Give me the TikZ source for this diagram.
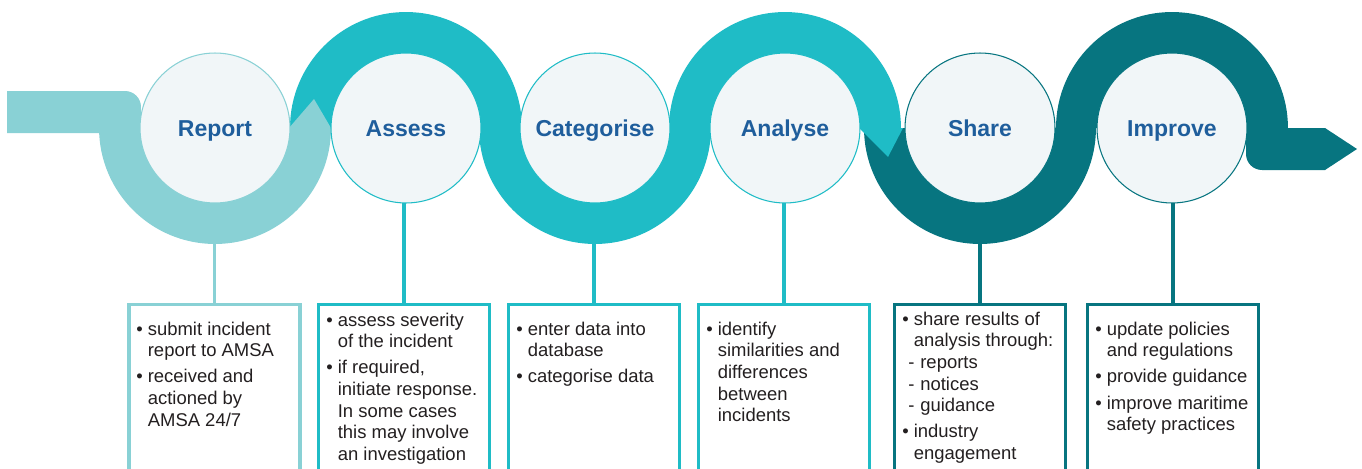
\documentclass[tikz,border=0pt]{standalone}
\usepackage{fontspec}
\setmainfont{Liberation Sans}
\definecolor{lt}{HTML}{89D1D5}
\definecolor{md}{HTML}{1FBCC6}
\definecolor{dk}{HTML}{077580}
\definecolor{hb}{HTML}{1F5E9C}
\definecolor{tx}{HTML}{231F20}
\definecolor{cf}{HTML}{F1F6F8}
\newcommand{\BulLine}[1]{\hbox{\makebox[0.23cm][l]{\textbullet}#1}}
\newcommand{\ContLine}[1]{\hbox{\hspace*{0.23cm}#1}}
\newcommand{\SubLine}[1]{\hbox{\hspace*{0.12cm}\makebox[0.24cm][l]{-}#1}}
\newcommand{\ParGap}{\vskip 0.09cm}
\newcommand{\BoxText}[1]{\vtop{\baselineskip=0.434cm\relax #1}}
\tikzset{
  circ/.style={circle, minimum size=3cm, inner sep=0pt, outer sep=0pt, fill=cf, line width=0.6pt},
  head/.style={anchor=base, inner sep=0pt, text=hb, font=\bfseries\fontsize{13.1}{15}\selectfont},
  bx/.style={rectangle, anchor=north, minimum width=3.42cm, minimum height=4.2cm, line width=0.07cm, inner sep=0pt},
  stem/.style={line width=0.07cm},
  btxt/.style={anchor=base west, inner sep=0pt, text=tx, font=\fontsize{10.5}{12.3}\selectfont},
}
\begin{document}
\begin{tikzpicture}[x=0.02cm,y=0.02cm]
\useasboundingbox (0,0) rectangle (1362,468);
\clip (0,0) rectangle (1362,468);
% ---- dark segments
\fill[dk] (980-116,340) arc[start angle=180,end angle=360,radius=2.32cm] -- (980+74,340) arc[start angle=0,end angle=-180,radius=1.48cm] -- cycle;
\fill[dk] (1172-116,340) arc[start angle=180,end angle=0,radius=2.32cm] -- (1172+74,340) arc[start angle=0,end angle=180,radius=1.48cm] -- cycle;
\fill[dk] (1246,340) -- (1246,314) arc[start angle=180,end angle=270,radius=0.32cm] -- (1325,298) -- (1325,340) -- cycle;
\fill[dk] (1325,340) -- (1357,319) -- (1325,298) -- cycle;
% ---- medium segments
\fill[md] (406-116,340) arc[start angle=180,end angle=0,radius=2.32cm] -- (406+74,340) arc[start angle=0,end angle=180,radius=1.48cm] -- cycle;
\fill[md] (595-116,340) arc[start angle=180,end angle=360,radius=2.32cm] -- (595+74,340) arc[start angle=0,end angle=-180,radius=1.48cm] -- cycle;
\fill[md] (785-116,340) arc[start angle=180,end angle=0,radius=2.32cm] -- (785+74,340) arc[start angle=0,end angle=180,radius=1.48cm] -- cycle;
\fill[md] (859,340) -- (888,311) -- (903,340) -- cycle;
% ---- light segment
\fill[lt] (7,377) -- (125,377) arc[start angle=90,end angle=0,radius=0.32cm] -- (141,340)
  arc[start angle=180,end angle=360,radius=1.48cm] -- (314,369) -- (331,340)
  arc[start angle=0,end angle=-180,radius=2.32cm] -- (99,335) -- (7,335) -- cycle;
% ---- circles
\node[circ, draw=lt] (report) at (215,340) {};
\node[circ, draw=md] (assess) at (406,340) {};
\node[circ, draw=md] (categorise) at (595,340) {};
\node[circ, draw=md] (analyse) at (785,340) {};
\node[circ, draw=dk] (share) at (980,340) {};
\node[circ, draw=dk] (improve) at (1172,340) {};
\node[head] (lreport) at (215,332) {Report};
\node[head] (lassess) at (406,332) {Assess};
\node[head] (lcategorise) at (595,332) {Categorise};
\node[head] (lanalyse) at (785,332) {Analyse};
\node[head] (lshare) at (980,332) {Share};
\node[head] (limprove) at (1172,332) {Improve};
% ---- boxes
\node[bx, draw=lt] (breport) at (214.5,165.5) {};
\node[bx, draw=md] (bassess) at (404,165.5) {};
\node[bx, draw=md] (bcategorise) at (594,165.5) {};
\node[bx, draw=md] (banalyse) at (784,165.5) {};
\node[bx, draw=dk] (bshare) at (980,165.5) {};
\node[bx, draw=dk] (bimprove) at (1173,165.5) {};
\draw[stem, lt] (breport.north) -- (breport.north |- report.south);
\draw[stem, md] (bassess.north) -- (bassess.north |- assess.south);
\draw[stem, md] (bcategorise.north) -- (bcategorise.north |- categorise.south);
\draw[stem, md] (banalyse.north) -- (banalyse.north |- analyse.south);
\draw[stem, dk] (bshare.north) -- (bshare.north |- share.south);
\draw[stem, dk] (bimprove.north) -- (bimprove.north |- improve.south);
% ---- box texts
\node[btxt] (treport) at (136,133) {\BoxText{%
  \BulLine{submit incident}\ContLine{report to AMSA}\ParGap
  \BulLine{received and}\ContLine{actioned by}\ContLine{AMSA 24/7}}};
\node[btxt] (tassess) at (326,142) {\BoxText{%
  \BulLine{assess severity}\ContLine{of the incident}\ParGap
  \BulLine{if required,}\ContLine{initiate response.}\ContLine{In some cases}\ContLine{this may involve}\ContLine{an investigation}}};
\node[btxt] (tcategorise) at (516,133) {\BoxText{%
  \BulLine{enter data into}\ContLine{database}\ParGap
  \BulLine{categorise data}}};
\node[btxt] (tanalyse) at (706,133) {\BoxText{%
  \BulLine{identify}\ContLine{similarities and}\ContLine{differences}\ContLine{between}\ContLine{incidents}}};
\node[btxt] (tshare) at (902,143) {\BoxText{%
  \BulLine{share results of}\ContLine{analysis through:}\SubLine{reports}\SubLine{notices}\SubLine{guidance}\ParGap
  \BulLine{industry}\ContLine{engagement}}};
\node[btxt] (timprove) at (1095,133) {\BoxText{%
  \BulLine{update policies}\ContLine{and regulations}\ParGap
  \BulLine{provide guidance}\ParGap
  \BulLine{improve maritime}\ContLine{safety practices}}};
\end{tikzpicture}
\end{document}
